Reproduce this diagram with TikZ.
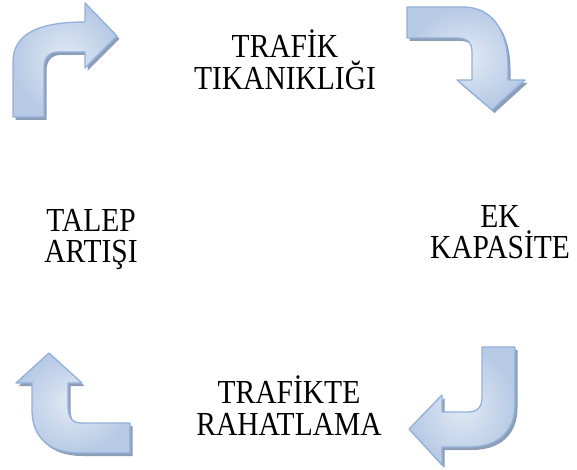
\documentclass[tikz,border=0pt]{standalone}
\usepackage{fontspec}
\setmainfont{Liberation Serif}
\definecolor{arrLight}{HTML}{E2EAF5}
\definecolor{arrDark}{HTML}{B7CAE5}
\definecolor{arrEdge}{HTML}{92B0DA}
\definecolor{arrShadow}{HTML}{8E9EB6}
\tikzset{
  arrowbody/.style={draw=arrEdge, line width=1.3pt, line join=round,
    shading=radial, inner color=arrLight, outer color=arrDark},
  arrowshadow/.style={fill=arrShadow, draw=none, shift={(2.5,3)}},
  lbl/.style={anchor=base, inner sep=0pt, font=\fontsize{29.5}{32}\selectfont}
}
\newcommand{\tall}[1]{\scalebox{1}[1.14]{#1}}
\begin{document}
\begin{tikzpicture}[x=1pt,y=-1pt]
\path[use as bounding box, fill=white] (0,0) rectangle (577,470);
% arrow shapes
\def\arrowA{(13,117) -- (13,62) .. controls (13,33) and (40,22) .. (85,22) -- (85,3) -- (117,36) -- (85,68) -- (85,52) -- (58,52) .. controls (49,52) and (44,58) .. (44,68) -- (44,117) -- cycle}
\def\arrowB{(407,7) -- (463,7) .. controls (492,7) and (508,30) .. (508,67) -- (508,80) -- (525,80) -- (492,110) -- (457,80) -- (472,80) -- (472,52) .. controls (472,43) and (467,38) .. (458,38) -- (407,38) -- cycle}
\def\arrowC{(130,423) -- (82,423) .. controls (72,423) and (68,418) .. (68,405) -- (68,383) -- (82,383) -- (49,353) -- (16,383) -- (32,383) -- (32,410) .. controls (32,438) and (50,453) .. (80,453) -- (130,453) -- cycle}
\def\arrowD{(482,347) -- (515,347) -- (515,405) .. controls (515,432) and (497,447) .. (470,447) -- (442,447) -- (442,465) -- (409,429) -- (442,395) -- (442,412) -- (468,412) .. controls (477,412) and (482,407) .. (482,398) -- cycle}
\foreach \p in {\arrowA,\arrowB,\arrowC,\arrowD}{
  \path[arrowshadow] \p;
}
\path[arrowbody] \arrowA;
\path[arrowbody] \arrowB;
\path[arrowbody] \arrowC;
\path[arrowbody] \arrowD;
% labels
\node[lbl] (t1) at (285,58) {\tall{TRAFİK}};
\node[lbl] (t2) at (285,90) {\tall{TIKANIKLIĞI}};
\node[lbl] (l1) at (91,231) {\tall{TALEP}};
\node[lbl] (l2) at (91,262) {\tall{ARTIŞI}};
\node[lbl] (r1) at (500,227) {\tall{EK}};
\node[lbl] (r2) at (500,258) {\tall{KAPASİTE}};
\node[lbl] (b1) at (289,403) {\tall{TRAFİKTE}};
\node[lbl] (b2) at (289,435) {\tall{RAHATLAMA}};
\end{tikzpicture}
\end{document}
